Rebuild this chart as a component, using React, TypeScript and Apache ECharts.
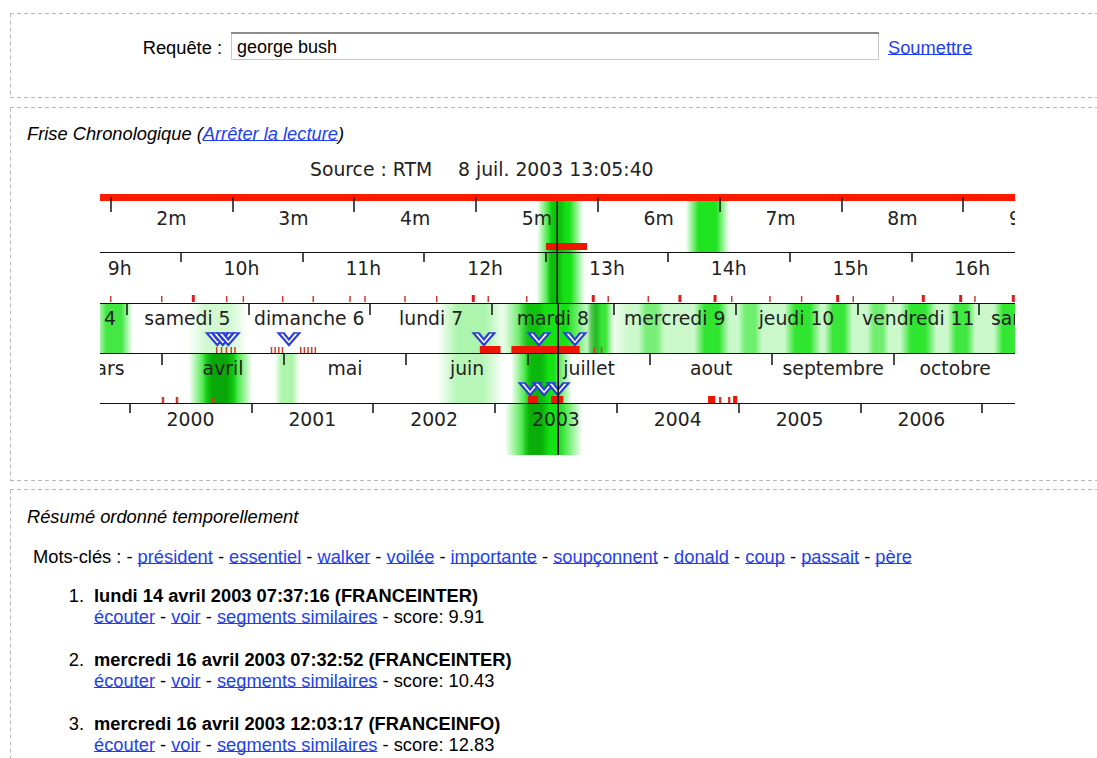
import React, { useEffect, useRef } from "react";
import * as echarts from "echarts";

// ---------------- data ----------------
const queryText = "george bush";
const sourceLabel = "Source : RTM";
const cursorLabel = "8 juil. 2003 13:05:40";
const cursorTime = { year: 2003, month: 7, day: 8, hour: 13, minute: 5, second: 40 };

const minuteTicks = [2, 3, 4, 5, 6, 7, 8, 9];
const minuteLabelStarts = [2, 3, 4, 5, 6, 7, 8, 9];
const minuteLabels = ["2m", "3m", "4m", "5m", "6m", "7m", "8m", "9m"];
const hourTicks = [10, 11, 12, 13, 14, 15, 16];
const hourLabelStarts = [9, 10, 11, 12, 13, 14, 15, 16];
const hourLabels = ["9h", "10h", "11h", "12h", "13h", "14h", "15h", "16h"];
const dayTicks = [5, 6, 7, 8, 9, 10, 11, 12];
const dayLabelStarts = [4, 5, 6, 7, 8, 9, 10, 11, 12];
const dayLabels = ["vendredi 4", "samedi 5", "dimanche 6", "lundi 7", "mardi 8", "mercredi 9", "jeudi 10", "vendredi 11", "samedi 12"];
const monthTicks = [4, 5, 6, 7, 8, 9, 10];
const monthLabelStarts = [3, 4, 5, 6, 7, 8, 9, 10];
const monthLabels = ["mars", "avril", "mai", "juin", "juillet", "aout", "septembre", "octobre"];
const yearTicks = [2000, 2001, 2002, 2003, 2004, 2005, 2006, 2007];
const yearLabelStarts = [2000, 2001, 2002, 2003, 2004, 2005, 2006];
const yearLabels = ["2000", "2001", "2002", "2003", "2004", "2005", "2006"];

// visible window of each band (in its own unit)
const minuteWindow = [1.913, 9.425];
const hourWindow = [9.338, 16.851];
const dayWindow = [4.782, 12.294];
const monthWindow = [3.492, 10.99];
const yearWindow = [1999.757, 2007.269];

// events
const minuteEventBars = [[5.575, 5.911]];
const hourEventTicks = [9.426, 9.845, 10.378, 10.515, 10.838, 11.089, 11.391, 11.514, 11.842, 12.103, 12.526, 12.842, 13.511, 13.84, 14.525, 14.839, 15.099, 15.523, 15.851, 16.522];
const hourEventTicksStrong = [10.104, 12.403, 13.388, 14.1, 14.388, 15.395, 16.098, 16.405, 16.837];
const dayEventTicks = [5.74, 5.78, 5.82, 5.86, 5.89, 6.19, 6.22, 6.25, 6.28, 6.43, 6.46, 6.49, 6.52, 6.55, 8.84, 8.9];
const dayEventBars = [[7.9, 8.07], [8.16, 8.72]];
const dayChevrons = [5.745, 5.79, 5.835, 6.333, 7.934, 8.386, 8.681];
const monthEventTicks = [4.008, 4.123, 4.418, 8.574, 8.648];
const monthEventBars = [[7.0, 7.082], [7.189, 7.287], [8.475, 8.533], [8.68, 8.713]];
const monthChevrons = [7.016, 7.131, 7.246];

// density (green) bands: [start, end, strength]
const minuteGreen = [[5.5, 5.88, 1.0], [6.72, 7.08, 0.95]];
const minuteDark = [[5.6, 5.74, 0.3]];
const hourGreen = [[12.92, 13.32, 1.0]];
const hourDark = [[13.0, 13.15, 0.35]];
const dayGreen = [[4.74, 5.05, 0.8], [5.5, 6.0, 0.2], [7.55, 8.12, 0.35], [8.08, 8.84, 1.0], [8.78, 9.0, 0.85], [9.2, 9.42, 0.45], [9.66, 9.95, 0.85], [10.02, 10.22, 0.5], [10.4, 10.7, 0.85], [10.73, 10.96, 0.8], [11.08, 11.26, 0.5], [11.35, 11.65, 0.85], [11.74, 11.97, 0.75], [12.12, 12.36, 0.85]];
const dayBase = [[8.95, 12.3, 0.22]];
const dayDark = [[8.22, 8.44, 0.3], [8.78, 8.9, 0.35]];
const monthGreen = [[4.22, 4.74, 1.0], [4.92, 5.13, 0.35], [6.25, 6.8, 0.3], [6.86, 7.36, 1.0]];
const monthDark = [[4.33, 4.62, 0.55], [6.97, 7.17, 0.4]];
const yearGreen = [[2003.08, 2003.72, 1.0]];
const yearDark = [[2003.22, 2003.45, 0.5]];

// page content
const keywords = ["président", "essentiel", "walker", "voilée", "importante", "soupçonnent", "donald", "coup", "passait", "père"];
const resultDates = ["lundi 14 avril 2003 07:37:16", "mercredi 16 avril 2003 07:32:52", "mercredi 16 avril 2003 12:03:17"];
const resultSources = ["FRANCEINTER", "FRANCEINTER", "FRANCEINFO"];
const resultScores = ["9.91", "10.43", "12.83"];

// ---------------- helpers ----------------
const PAGE_FAMILY = '"Liberation Sans", Arial, sans-serif';
const TL_FAMILY = '"DejaVu Sans", sans-serif';
const PAGE_SIZE = 18.3;
const TL_SIZE = 18.8;
const LINK = "#1f3ff0";

let mctx: CanvasRenderingContext2D | null = null;
function tw(text: string, size: number, weight = "normal", fstyle = "normal", family = PAGE_FAMILY) {
  if (!mctx) mctx = document.createElement("canvas").getContext("2d");
  mctx!.font = `${fstyle} ${weight} ${size}px ${family}`;
  return mctx!.measureText(text).width;
}

type Run = { t: string; link?: boolean; bold?: boolean; italic?: boolean };

function textEl(x: number, y: number, text: string, opts: any = {}) {
  const align = opts.align || "left";
  return {
    type: "text",
    x,
    y,
    silent: true,
    style: {
      text,
      fill: opts.fill || "#000",
      fontSize: opts.size || PAGE_SIZE,
      fontFamily: opts.family || PAGE_FAMILY,
      fontWeight: opts.weight || "normal",
      fontStyle: opts.fstyle || "normal",
      textAlign: align,
      align,
      textVerticalAlign: "middle",
      verticalAlign: "middle",
    },
  };
}

function inlineRuns(x0: number, y: number, runs: Run[], size = PAGE_SIZE) {
  const els: any[] = [];
  let x = x0;
  runs.forEach((r) => {
    const weight = r.bold ? "bold" : "normal";
    const fstyle = r.italic ? "italic" : "normal";
    const m = r.t.match(/^(\s*)(.*?)(\s*)$/) as RegExpMatchArray;
    const lead = tw(m[1], size, weight, fstyle);
    const body = m[2];
    const bw = tw(body, size, weight, fstyle);
    const full = tw(r.t, size, weight, fstyle);
    if (body) {
      els.push(textEl(x + lead, y, body, { size, weight, fstyle, fill: r.link ? LINK : "#000" }));
      if (r.link) {
        els.push({
          type: "line",
          silent: true,
          shape: { x1: x + lead, y1: y + 7.5, x2: x + lead + bw, y2: y + 7.5 },
          style: { stroke: LINK, lineWidth: 1 },
        });
      }
    }
    x += full;
  });
  return els;
}

function dashed(x1: number, y1: number, x2: number, y2: number) {
  return { type: "line", silent: true, shape: { x1, y1, x2, y2 }, style: { stroke: "#b8b8b8", lineWidth: 1, lineDash: [4, 3] } };
}

function buildOption() {
  const hoursNow = cursorTime.hour + cursorTime.minute / 60 + cursorTime.second / 3600;
  const dayOfYear = [31, 28, 31, 30, 31, 30].slice(0, cursorTime.month - 1).reduce((a, b) => a + b, 0) + cursorTime.day;
  const cursorMinute = cursorTime.minute + cursorTime.second / 60;
  const cursorHour = hoursNow;
  const cursorDay = cursorTime.day + hoursNow / 24;
  const cursorMonth = cursorTime.month + (cursorTime.day - 1 + hoursNow / 24) / 31;
  const cursorYear = cursorTime.year + (dayOfYear - 1 + hoursNow / 24) / 365;

  const mk = (thin: number[], strong: number[], bars: number[][]) => [
    ...thin.map((v) => [v, v, 0]),
    ...strong.map((v) => [v, v, 1]),
    ...bars.map((b) => [b[0], b[1], 2]),
  ];

  const rows = [
    { top: 197.5, height: 54.5, win: minuteWindow, ticks: minuteTicks, starts: minuteLabelStarts, labels: minuteLabels, labelDy: 21, tickLen: 14.5, lineColor: "#ff1a00", lineWidth: 7, green: minuteGreen, base: [] as number[][], dark: minuteDark, marks: mk([], [], minuteEventBars), markBottom: 2, markH: 7, tickW: 1.5, chev: [] as number[], cursor: cursorMinute, cursorTop: 4 },
    { top: 252, height: 51, win: hourWindow, ticks: hourTicks, starts: hourLabelStarts, labels: hourLabels, labelDy: 16.5, tickLen: 10, lineColor: "#111", lineWidth: 1, green: hourGreen, base: [] as number[][], dark: hourDark, marks: mk(hourEventTicks, hourEventTicksStrong, []), markBottom: 1, markH: 7, tickW: 1.5, chev: [] as number[], cursor: cursorHour, cursorTop: 0 },
    { top: 303, height: 50, win: dayWindow, ticks: dayTicks, starts: dayLabelStarts, labels: dayLabels, labelDy: 15.5, tickLen: 12, lineColor: "#111", lineWidth: 1, green: dayGreen, base: dayBase, dark: dayDark, marks: mk(dayEventTicks, [], dayEventBars), markBottom: 0, markH: 7, tickW: 1.5, chev: dayChevrons, cursor: cursorDay, cursorTop: 0 },
    { top: 353, height: 50, win: monthWindow, ticks: monthTicks, starts: monthLabelStarts, labels: monthLabels, labelDy: 15.5, tickLen: 12, lineColor: "#111", lineWidth: 1, green: monthGreen, base: [] as number[][], dark: monthDark, marks: mk(monthEventTicks, [], monthEventBars), markBottom: 0, markH: 7, tickW: 2.5, chev: monthChevrons, cursor: cursorMonth, cursorTop: 0 },
    { top: 403, height: 52, win: yearWindow, ticks: yearTicks, starts: yearLabelStarts, labels: yearLabels, labelDy: 16, tickLen: 10, lineColor: "#111", lineWidth: 1, green: yearGreen, base: [] as number[][], dark: yearDark, marks: mk([], [], []), markBottom: 0, markH: 7, tickW: 1.5, chev: [] as number[], cursor: cursorYear, cursorTop: 0 },
  ];

  const grid = rows.map((r) => ({ left: 100, top: r.top, width: 915, height: r.height, containLabel: false, outerBoundsMode: "none" }));
  const xAxis = rows.map((r, i) => ({
    type: "value",
    gridIndex: i,
    position: "top",
    min: r.win[0],
    max: r.win[1],
    z: 3,
    axisLine: { show: true, onZero: false, lineStyle: { color: r.lineColor, width: r.lineWidth, cap: "butt" } },
    axisTick: { show: true, inside: true, length: r.tickLen, customValues: r.ticks, lineStyle: { color: "#111", width: 1.5 } },
    axisLabel: { show: false },
    splitLine: { show: false },
  }));
  const yAxis = rows.map((r, i) => ({ type: "value", gridIndex: i, min: 0, max: 1, inverse: true, show: false }));

  const series: any[] = [];
  rows.forEach((r, i) => {
    // density bands (kind 0 = green soft band, 1 = dark core, 2 = flat light base)
    series.push({
      type: "custom",
      xAxisIndex: i,
      yAxisIndex: i,
      z: 1,
      clip: true,
      silent: true,
      data: [
        ...r.base.map((b) => [b[0], b[1], b[2], 2]),
        ...r.green.map((b) => [b[0], b[1], b[2], 0]),
        ...r.dark.map((b) => [b[0], b[1], b[2], 1]),
      ],
      renderItem: (params: any, api: any) => {
        const cs = params.coordSys;
        const x0 = api.coord([api.value(0), 0])[0];
        const x1 = api.coord([api.value(1), 0])[0];
        const a = api.value(2);
        const kind = api.value(3);
        const rgb = kind === 1 ? "0,120,0" : "20,226,20";
        const fill =
          kind === 2
            ? new echarts.graphic.LinearGradient(0, 0, 1, 0, [
                { offset: 0, color: `rgba(${rgb},0)` },
                { offset: 0.05, color: `rgba(${rgb},${a})` },
                { offset: 0.95, color: `rgba(${rgb},${a})` },
                { offset: 1, color: `rgba(${rgb},0)` },
              ])
            : new echarts.graphic.LinearGradient(0, 0, 1, 0, [
                { offset: 0, color: `rgba(${rgb},0)` },
                { offset: 0.3, color: `rgba(${rgb},${a})` },
                { offset: 0.7, color: `rgba(${rgb},${a})` },
                { offset: 1, color: `rgba(${rgb},0)` },
              ]);
        return { type: "rect", shape: { x: x0, y: cs.y, width: x1 - x0, height: cs.height }, style: { fill } };
      },
    });
    // labels
    series.push({
      type: "custom",
      xAxisIndex: i,
      yAxisIndex: i,
      z: 4,
      clip: true,
      silent: true,
      data: r.starts.map((s, k) => [s + 0.5, k]),
      renderItem: (params: any, api: any) => {
        const cs = params.coordSys;
        const x = api.coord([api.value(0), 0])[0];
        return {
          type: "text",
          x,
          y: cs.y + r.labelDy,
          style: { text: r.labels[api.value(1)], fill: "#222", fontSize: TL_SIZE, fontFamily: TL_FAMILY, align: "center", verticalAlign: "middle", textAlign: "center", textVerticalAlign: "middle" },
        };
      },
    });
    // event marks
    series.push({
      type: "custom",
      xAxisIndex: i,
      yAxisIndex: i,
      z: 5,
      clip: true,
      silent: true,
      data: r.marks,
      renderItem: (params: any, api: any) => {
        const cs = params.coordSys;
        const p0 = api.coord([api.value(0), 0])[0];
        const p1 = api.coord([api.value(1), 0])[0];
        const kind = api.value(2);
        let x = p0, w = 2, h = r.markH, color = "#ee1500";
        if (kind === 2) { w = Math.max(p1 - p0, 2); }
        else if (kind === 1) { x = p0 - 1.5; w = 3; color = "#dd1a1a"; }
        else { x = p0 - r.tickW / 2; w = r.tickW; color = "#d23a2a"; h = r.markH - 1; }
        return { type: "rect", shape: { x, y: cs.y + cs.height - r.markBottom - h, width: w, height: h }, style: { fill: color } };
      },
    });
    // chevrons
    if (r.chev.length) {
      series.push({
        type: "scatter",
        xAxisIndex: i,
        yAxisIndex: i,
        z: 6,
        silent: true,
        symbol: "path://M0,0 L5,0 L10,6 L15,0 L20,0 L10,11 Z",
        symbolSize: [21, 12],
        itemStyle: { color: "#ffffff", borderColor: "#2b3fd6", borderWidth: 2, opacity: 1 },
        data: r.chev.map((v) => [v, 0.72]),
      });
    }
    // cursor line
    series.push({
      type: "custom",
      xAxisIndex: i,
      yAxisIndex: i,
      z: 7,
      clip: true,
      silent: true,
      data: [[r.cursor, 0]],
      renderItem: (params: any, api: any) => {
        const cs = params.coordSys;
        const x = Math.round(api.coord([api.value(0), 0])[0]) + 0.25;
        return { type: "line", shape: { x1: x, y1: cs.y + r.cursorTop, x2: x, y2: cs.y + cs.height }, style: { stroke: "#000", lineWidth: 1.5 } };
      },
    });
  });

  // ---------- page graphics ----------
  const els: any[] = [];
  els.push(dashed(10, 13.5, 1097, 13.5), dashed(10.5, 13.5, 10.5, 97.5), dashed(10, 97.5, 1097, 97.5));
  els.push(dashed(10, 107.5, 1097, 107.5), dashed(10.5, 107.5, 10.5, 480.5), dashed(10, 480.5, 1097, 480.5));
  els.push(dashed(10, 489.5, 1097, 489.5), dashed(10.5, 489.5, 10.5, 758));

  els.push(textEl(222, 47, "Requête :", { align: "right" }));
  els.push({ type: "rect", silent: true, shape: { x: 231.5, y: 32.5, width: 647, height: 27 }, style: { fill: "#fff", stroke: "#c8c8c8", lineWidth: 1 } });
  els.push({ type: "line", silent: true, shape: { x1: 231, y1: 33, x2: 879, y2: 33 }, style: { stroke: "#8c8c8c", lineWidth: 2 } });
  els.push(textEl(237, 47, queryText, { size: 18 }));
  els.push(...inlineRuns(888, 47, [{ t: "Soumettre", link: true }]));

  els.push(...inlineRuns(27, 133, [
    { t: "Frise Chronologique (", italic: true },
    { t: "Arrêter la lecture", italic: true, link: true },
    { t: ")", italic: true },
  ]));
  els.push(textEl(310, 169, sourceLabel, { family: TL_FAMILY, fill: "#222", size: TL_SIZE }));
  els.push(textEl(458, 169, cursorLabel, { family: TL_FAMILY, fill: "#222", size: TL_SIZE }));

  els.push(...inlineRuns(27, 516, [{ t: "Résumé ordonné temporellement", italic: true }]));
  const kwRuns: Run[] = [{ t: "Mots-clés : - " }];
  keywords.forEach((k, i) => {
    if (i > 0) kwRuns.push({ t: " - " });
    kwRuns.push({ t: k, link: true });
  });
  els.push(...inlineRuns(33, 556, kwRuns));

  resultDates.forEach((d, i) => {
    const y1 = 595 + 64 * i;
    const y2 = 616 + 64 * i;
    els.push(textEl(84, y1, `${i + 1}.`, { align: "right" }));
    els.push(...inlineRuns(94, y1, [{ t: `${d} (${resultSources[i]})`, bold: true }]));
    els.push(...inlineRuns(94, y2, [
      { t: "écouter", link: true },
      { t: " - " },
      { t: "voir", link: true },
      { t: " - " },
      { t: "segments similaires", link: true },
      { t: ` - score: ${resultScores[i]}` },
    ]));
  });

  return {
    animation: false,
    backgroundColor: "#ffffff",
    grid,
    xAxis,
    yAxis,
    series,
    graphic: { elements: els },
  };
}

export default function App() {
  const ref = useRef<HTMLDivElement>(null);
  useEffect(() => {
    if (!ref.current) return;
    const chart = echarts.init(ref.current, null, { renderer: "svg" });
    chart.setOption(buildOption() as any);
    return () => chart.dispose();
  }, []);
  return <div ref={ref} style={{ position: "fixed", left: 0, top: 0, width: 1097, height: 758, background: "#fff" }} />;
}
